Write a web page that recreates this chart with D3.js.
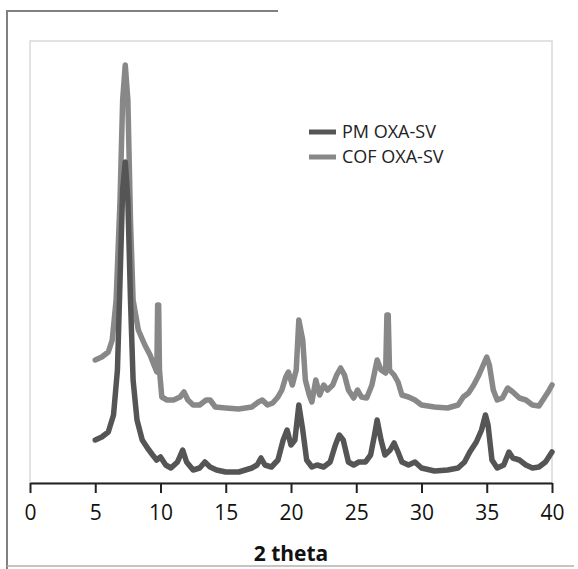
<!DOCTYPE html>
<html>
<head>
<meta charset="utf-8">
<script src="https://cdn.jsdelivr.net/npm/d3@7"></script>
<style>
  html, body { margin: 0; padding: 0; background: #fff; }
  svg { display: block; }
</style>
</head>
<body>
<svg id="chart" width="578" height="569"></svg>
<script>
// ---- data (2 theta, intensity in arbitrary units) ----
const seriesNames = ["PM OXA-SV", "COF OXA-SV"];
const xTicks = [0, 5, 10, 15, 20, 25, 30, 35, 40];

const cofTheta = [5, 5.5, 6, 6.3, 6.6, 6.9, 7.1, 7.3, 7.5, 7.7, 7.9, 8.3, 8.8, 9.2, 9.5, 9.72, 9.78, 9.86, 9.92, 10.1, 10.5, 11, 11.5, 11.8, 12.1, 12.5, 13, 13.5, 13.8, 14.2, 15, 16, 17, 17.5, 17.8, 18.2, 18.6, 19, 19.3, 19.6, 19.8, 20.1, 20.4, 20.6, 20.9, 21.1, 21.4, 21.6, 21.9, 22.2, 22.5, 22.8, 23.2, 23.5, 23.8, 24.1, 24.4, 24.8, 25.1, 25.4, 25.8, 26.2, 26.6, 26.9, 27.25, 27.35, 27.45, 27.55, 27.9, 28.2, 28.5, 29, 29.5, 30, 31, 32, 32.8, 33.2, 33.6, 34, 34.4, 34.8, 35, 35.2, 35.5, 35.8, 36.2, 36.6, 37, 37.5, 38, 38.5, 39, 39.4, 39.7, 40];
const cofValues = [123, 126, 131, 143, 183, 283, 383, 418, 383, 263, 183, 153, 138, 128, 118, 111, 178, 178, 113, 86, 83, 83, 86, 91, 83, 78, 78, 83, 83, 76, 75, 74, 76, 81, 83, 78, 80, 86, 93, 106, 111, 98, 113, 163, 143, 103, 88, 81, 103, 88, 98, 93, 98, 108, 115, 108, 93, 85, 93, 86, 85, 98, 123, 113, 110, 168, 168, 113, 108, 101, 88, 86, 83, 78, 76, 75, 78, 86, 90, 98, 108, 120, 126, 118, 93, 83, 85, 95, 91, 85, 83, 78, 77, 85, 91, 98];

const pmTheta = [5, 5.5, 6, 6.4, 6.7, 6.9, 7.1, 7.3, 7.5, 7.7, 7.9, 8.2, 8.6, 9, 9.4, 9.7, 10, 10.4, 10.8, 11.3, 11.7, 12, 12.5, 13, 13.4, 13.8, 14.3, 15, 16, 17, 17.4, 17.7, 18, 18.5, 19, 19.4, 19.7, 20, 20.3, 20.6, 20.9, 21.2, 21.6, 22, 22.5, 23, 23.4, 23.7, 24, 24.4, 24.8, 25.2, 25.7, 26.1, 26.4, 26.6, 26.9, 27.2, 27.6, 27.9, 28.2, 28.5, 29, 29.5, 30, 31, 32, 32.8, 33.3, 33.7, 34.2, 34.6, 34.9, 35.1, 35.4, 35.8, 36.3, 36.7, 37, 37.5, 38, 38.5, 39, 39.5, 40];
const pmValues = [43, 46, 51, 68, 113, 203, 293, 321, 283, 183, 103, 63, 43, 35, 28, 23, 26, 18, 15, 21, 33, 21, 13, 15, 21, 16, 13, 11, 11, 15, 18, 25, 18, 16, 23, 43, 53, 38, 43, 78, 53, 23, 16, 18, 16, 21, 38, 48, 43, 21, 18, 21, 21, 28, 48, 63, 43, 28, 33, 40, 31, 21, 18, 21, 15, 12, 13, 15, 21, 31, 41, 53, 68, 58, 23, 15, 18, 31, 25, 23, 18, 15, 16, 21, 31];

const pmColor = "#555555";
const cofColor = "#888888";

// ---- layout ----
const svg = d3.select("#chart");
const plot = { left: 30, right: 552, top: 41, bottom: 483 };

const x = d3.scaleLinear().domain([0, 40]).range([plot.left, plot.right]);
const y = d3.scaleLinear().domain([0, 442]).range([plot.bottom, plot.top]);

// outer frame (cropped chart area)
svg.append("line").attr("x1", 7).attr("x2", 7).attr("y1", 10).attr("y2", 569)
  .attr("stroke", "#808080").attr("stroke-width", 2);
svg.append("line").attr("x1", 6).attr("x2", 278).attr("y1", 11).attr("y2", 11)
  .attr("stroke", "#808080").attr("stroke-width", 2);

// plot area border
svg.append("rect")
  .attr("x", plot.left).attr("y", plot.top)
  .attr("width", plot.right - plot.left).attr("height", plot.bottom - plot.top)
  .attr("fill", "none").attr("stroke", "#d9d9d9").attr("stroke-width", 1.5);

// series
const line = d3.line().x(d => x(d[0])).y(d => y(d[1]));
const cofData = cofTheta.map((t, i) => [t, cofValues[i]]);
const pmData = pmTheta.map((t, i) => [t, pmValues[i]]);

svg.append("path").datum(cofData)
  .attr("d", line).attr("fill", "none").attr("stroke", cofColor)
  .attr("stroke-width", 5.5).attr("stroke-linejoin", "round").attr("stroke-linecap", "round");
svg.append("path").datum(pmData)
  .attr("d", line).attr("fill", "none").attr("stroke", pmColor)
  .attr("stroke-width", 5.5).attr("stroke-linejoin", "round").attr("stroke-linecap", "round");

// x axis
const xAxis = d3.axisBottom(x).tickValues(xTicks).tickSize(10).tickPadding(12).tickSizeOuter(0);
const gx = svg.append("g").attr("transform", `translate(0,${plot.bottom})`).call(xAxis);
gx.select(".domain").attr("stroke", "#222").attr("stroke-width", 2);
gx.selectAll(".tick line").attr("stroke", "#222").attr("stroke-width", 2);
gx.selectAll(".tick text")
  .attr("font-family", "'Open Sans', sans-serif")
  .attr("font-size", 21).attr("fill", "#111");

// x axis title
svg.append("text")
  .attr("x", (plot.left + plot.right) / 2).attr("y", 561)
  .attr("text-anchor", "middle")
  .attr("font-family", "'Open Sans', sans-serif")
  .attr("font-weight", "bold").attr("font-size", 21).attr("fill", "#111")
  .text("2 theta");

// bottom frame line
svg.append("line").attr("x1", 7).attr("x2", 574).attr("y1", 566).attr("y2", 566)
  .attr("stroke", "#b0b0b0").attr("stroke-width", 1.5);

// legend
const legend = svg.append("g");
const legendItems = [
  { name: seriesNames[0], color: pmColor, y: 132 },
  { name: seriesNames[1], color: cofColor, y: 157 }
];
legendItems.forEach(it => {
  legend.append("line").attr("x1", 309).attr("x2", 336).attr("y1", it.y).attr("y2", it.y)
    .attr("stroke", it.color).attr("stroke-width", 5);
  legend.append("text").attr("x", 342).attr("y", it.y).attr("dy", "0.35em")
    .attr("font-family", "'Open Sans', sans-serif").attr("font-size", 18).attr("fill", "#222")
    .text(it.name);
});
</script>
</body>
</html>
